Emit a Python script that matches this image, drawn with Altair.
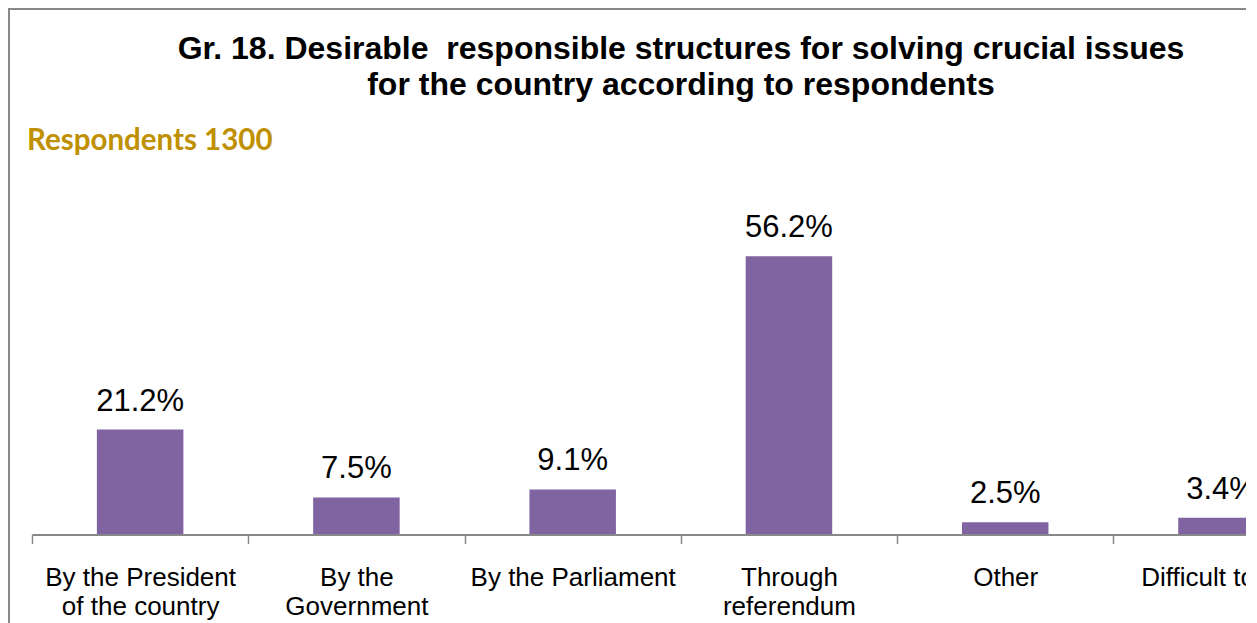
import altair as alt
import pandas as pd

categories = [
    "By the President\nof the country",
    "By the\nGovernment",
    "By the Parliament",
    "Through\nreferendum",
    "Other",
    "Difficult to say",
]
values = [21.2, 7.5, 9.1, 56.2, 2.5, 3.4]
title_lines = [
    "Gr. 18. Desirable\u00a0 responsible structures for solving crucial issues",
    "for the country according to respondents",
]
subtitle_text = "Respondents 1300"

# layout constants (pixels)
W, H = 1238, 615
base_y = 526.5          # pixel row of the zero line
ppu = 4.95              # pixels per percentage point
y_domain = [-(H - base_y) / ppu, base_y / ppu]
step = 216.27
x0 = 24
x_range = [x0, x0 + step * len(categories)]

GRAY = "#888888"
df = pd.DataFrame({"category": categories, "value": values})

x_enc = alt.X(
    "category:N",
    sort=None,
    scale=alt.Scale(type="band", paddingInner=0, paddingOuter=0, range=x_range),
    axis=alt.Axis(
        title=None,
        labelAngle=0,
        labelExpr="datum.value ? split(datum.value, '\\n') : ''",
        labelFont="Liberation Sans",
        labelFontSize=26,
        labelColor="black",
        labelBaseline="alphabetic",
        labelLineHeight=29,
        labelPadding=42,
        labelLimit=500,
        labelOverlap=False,
        tickSize=9,
        tickWidth=1.5,
        tickColor=GRAY,
        domainColor=GRAY,
        domainWidth=2,
        tickBand="extent",
        offset=base_y - H,
        zindex=1,
        grid=False,
    ),
)
y_enc = alt.Y("value:Q", scale=alt.Scale(domain=y_domain, nice=False, zero=False), axis=None)

bars = (
    alt.Chart(df)
    .mark_bar(color="#8064A2", width=alt.RelativeBandSize(0.4))
    .encode(x=x_enc, y=y_enc)
)

labels = (
    alt.Chart(df)
    .transform_calculate(label="format(datum.value, '.1f') + '%'")
    .mark_text(font="Liberation Sans", fontSize=31, dy=-19, baseline="alphabetic", color="black")
    .encode(x=x_enc, y=y_enc, text="label:N")
)

resp = (
    alt.Chart(pd.DataFrame({"t": [subtitle_text]}))
    .mark_text(align="left", baseline="alphabetic", font="Lato", fontWeight="bold", fontSize=29.5, color="#BF9000")
    .encode(x=alt.value(19), y=alt.value(142), text="t:N")
)

frame = (
    alt.Chart(pd.DataFrame({"a": [0]}))
    .mark_rect(filled=False, stroke=GRAY, strokeWidth=2)
    .encode(x=alt.value(1), y=alt.value(1), x2=alt.value(4000), y2=alt.value(4000))
)

chart = (
    alt.layer(frame, bars, labels, resp)
    .properties(
        width=W,
        height=H,
        autosize=alt.AutoSizeParams(type="none"),
        padding=0,
        title=alt.TitleParams(
            text=title_lines,
            font="Liberation Sans",
            fontSize=32,
            fontWeight="bold",
            color="black",
            anchor="middle",
            frame="group",
            dx=54,
            offset=-118.5,
            baseline="alphabetic",
            lineHeight=36,
        ),
    )
    .configure_view(stroke=None)
    .configure(background="white")
)

chart.save("out.html", embed_options={"renderer": "svg", "actions": False})
